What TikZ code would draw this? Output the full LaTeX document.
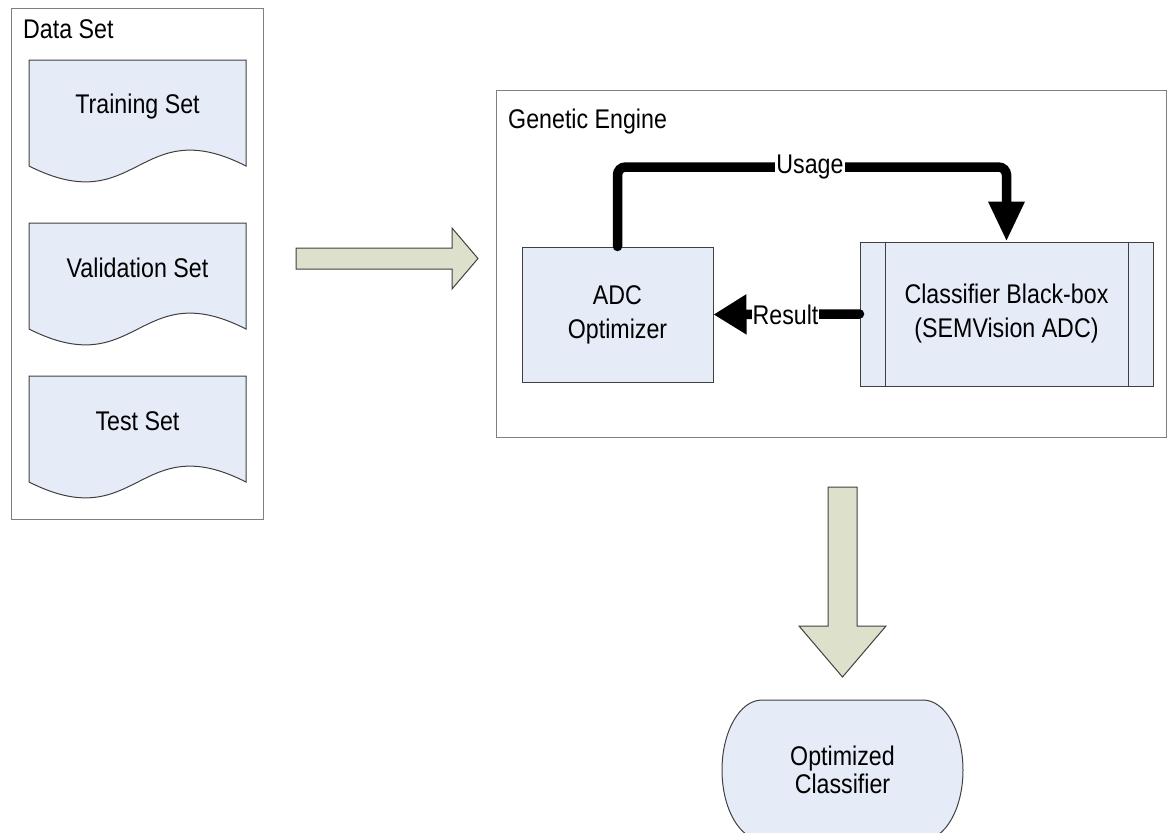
\documentclass[tikz,border=0pt]{standalone}
\usepackage{fontspec}
\setmainfont{Liberation Sans}[FakeStretch=0.86]
\usetikzlibrary{arrows.meta}
\definecolor{boxfill}{HTML}{E6ECF7}
\definecolor{arrowfill}{HTML}{DDE1CB}
\definecolor{edgegray}{HTML}{404040}
\definecolor{framegray}{HTML}{7F7F7F}
\begin{document}
\begin{tikzpicture}[x=1pt,y=-1pt,
  font=\fontsize{27}{34}\selectfont,
  container/.style={draw=framegray, line width=1.3pt, inner sep=0, anchor=north west},
  proc/.style={draw=edgegray, fill=boxfill, line width=1pt, align=center, inner sep=0},
  lbl/.style={inner sep=0},
  conn/.style={line width=9.5pt, rounded corners=8pt, line cap=round},
  tag/.style={fill=white, inner sep=1pt},
  block/.style={draw=edgegray, fill=arrowfill, line width=1pt},
  docshape/.pic={\path[draw=edgegray, fill=boxfill, line width=1pt]
      (0,0) -- (217,0) -- (217,106) .. controls (109,51) and (109,161) .. (0,106) -- cycle;}
]
\useasboundingbox (0,0) rectangle (1168,833);

% containers
\node[container, minimum width=252pt, minimum height=511pt] (dataset) at (11,8) {};
\node[lbl, anchor=base west] (datasetTitle) at (23,38) {Data Set};
\node[container, minimum width=670pt, minimum height=347pt] (engine) at (496,90) {};
\node[lbl, anchor=base west] (engineTitle) at (508,128) {Genetic Engine};

% documents
\pic (trainDoc) at (29,60) {docshape};
\node[lbl, anchor=base] (trainTxt) at (137.5,113) {Training Set};
\pic (validDoc) at (29,223) {docshape};
\node[lbl, anchor=base] (validTxt) at (137.5,277) {Validation Set};
\pic (testDoc) at (29,376) {docshape};
\node[lbl, anchor=base] (testTxt) at (137.5,430) {Test Set};

% block arrows
\path[block] (296,248) -- (452,248) -- (452,228) -- (478,258.5) -- (452,289) -- (452,269) -- (296,269) -- cycle;
\path[block] (828,487) -- (857,487) -- (857,626) -- (886,626) -- (842.5,677) -- (799,626) -- (828,626) -- cycle;

% process boxes
\node[proc, minimum width=191pt, minimum height=135pt] (adc) at (617.5,314.5) {ADC\\Optimizer};
\node[proc, minimum width=293pt, minimum height=144pt] (clf) at (1006.5,314) {Classifier Black-box\\(SEMVision ADC)};
\draw[edgegray, line width=1pt] ([xshift=26pt]clf.north west) -- ([xshift=26pt]clf.south west);
\draw[edgegray, line width=1pt] ([xshift=-25pt]clf.north east) -- ([xshift=-25pt]clf.south east);

% terminator (clipped by the page bottom, as in the reference)
\path[draw=edgegray, fill=boxfill, line width=1pt]
  (762,700) -- (923,700) .. controls (945.1,700) and (963,731.3) .. (963,770)
  .. controls (963,808.7) and (945.1,840) .. (923,840) -- (762,840)
  .. controls (739.9,840) and (722,808.7) .. (722,770)
  .. controls (722,731.3) and (739.9,700) .. (762,700) -- cycle;
\node[lbl, minimum width=241pt, minimum height=140pt, align=center,
      font=\fontsize{27}{28}\selectfont] (opt) at (842.5,770) {Optimized\\Classifier};

% connectors
\coordinate (usageCorner) at (1006.5,167);
\draw[conn, -{Triangle[width=34pt,length=40pt]}] (adc.north) |- (usageCorner) -- (clf.north);
\node[tag] (usage) at (810,167) {Usage};
\draw[conn, -{Triangle[width=38pt,length=33pt]}] (clf.west) -- (adc.east);
\node[tag] (result) at (785.5,314.5) {Result};
\end{tikzpicture}
\end{document}
